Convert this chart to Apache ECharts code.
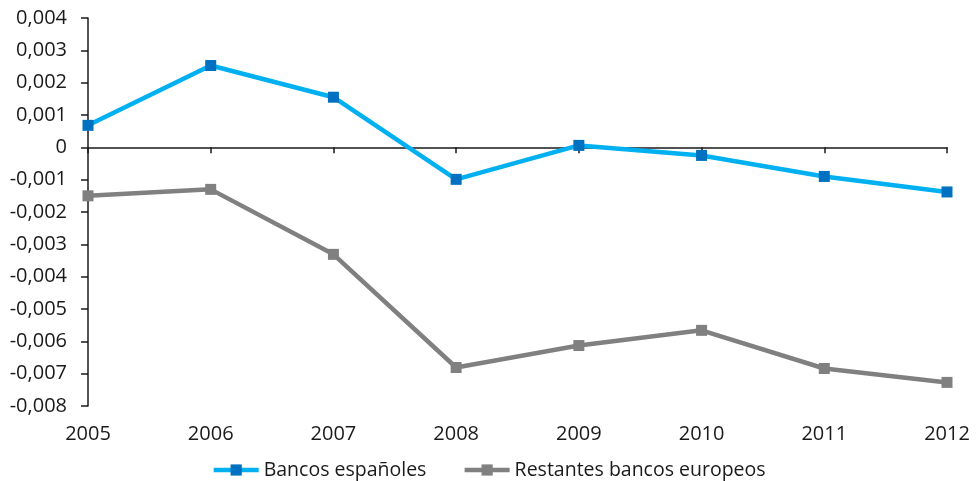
<!DOCTYPE html>
<html>
<head>
<meta charset="utf-8">
<script src="https://cdn.jsdelivr.net/npm/echarts@6/dist/echarts.min.js"></script>
<style>
  html, body { margin: 0; padding: 0; background: #fff; }
  #chart { width: 977px; height: 481px; }
</style>
</head>
<body>
<div id="chart"></div>
<script>
// Years on the category axis
const years = ['2005', '2006', '2007', '2008', '2009', '2010', '2011', '2012'];

// Spanish banks vs. remaining European banks
const bancosEspanoles = [0.00068, 0.00253, 0.00155, -0.00099, 0.00006, -0.00025, -0.0009, -0.00138];
const restantesEuropeos = [-0.0015, -0.0013, -0.00331, -0.00681, -0.00613, -0.00566, -0.00684, -0.00727];

const seriesNames = ['Bancos españoles', 'Restantes bancos europeos'];

const FONT = '"Open Sans", sans-serif';
const INK = '#1a1a1a';

function fmt(v) {
  if (Math.abs(v) < 1e-9) return '0';
  return v.toFixed(3).replace('.', ',');
}

const chart = echarts.init(document.getElementById('chart'), null, { renderer: 'canvas' });

chart.setOption({
  animation: false,
  backgroundColor: '#fff',
  textStyle: { fontFamily: FONT },
  grid: {
    left: 88, right: 30, top: 18, bottom: 75,
    containLabel: false,
    outerBoundsMode: 'none'
  },
  legend: {
    top: 455,
    left: 'center',
    itemWidth: 45,
    itemHeight: 14,
    itemGap: 36,
    lineStyle: { width: 4.5 },
    textStyle: { fontFamily: FONT, fontSize: 19.5, color: INK },
    data: seriesNames
  },
  xAxis: [
    {
      // zero line with ticks
      type: 'category',
      data: years,
      boundaryGap: false,
      axisLine: { onZero: true, lineStyle: { color: INK, width: 1.5 } },
      axisTick: { show: true, length: 6, inside: false, lineStyle: { color: INK, width: 1.5 } },
      axisLabel: { show: false },
      splitLine: { show: false }
    },
    {
      // year labels along the bottom edge
      type: 'category',
      data: years,
      boundaryGap: false,
      position: 'bottom',
      axisLine: { show: false, onZero: false },
      axisTick: { show: false },
      axisLabel: { show: true, margin: 18, fontSize: 20, color: INK, fontFamily: FONT },
      splitLine: { show: false }
    }
  ],
  yAxis: {
    type: 'value',
    min: -0.008,
    max: 0.004,
    interval: 0.001,
    axisLine: { show: true, lineStyle: { color: INK, width: 1.5 } },
    axisTick: { show: true, length: 7, lineStyle: { color: INK, width: 1.5 } },
    axisLabel: { margin: 21, fontSize: 20, color: INK, fontFamily: FONT, formatter: fmt },
    splitLine: { show: false }
  },
  series: [
    {
      name: seriesNames[0],
      type: 'line',
      data: bancosEspanoles,
      symbol: 'rect',
      symbolSize: 11,
      showAllSymbol: true,
      lineStyle: { color: '#00B0F0', width: 4.5 },
      itemStyle: { color: '#0070C0' },
      z: 3
    },
    {
      name: seriesNames[1],
      type: 'line',
      data: restantesEuropeos,
      symbol: 'rect',
      symbolSize: 11,
      showAllSymbol: true,
      lineStyle: { color: '#808080', width: 4.5 },
      itemStyle: { color: '#808080' },
      z: 2
    }
  ]
});
</script>
</body>
</html>
